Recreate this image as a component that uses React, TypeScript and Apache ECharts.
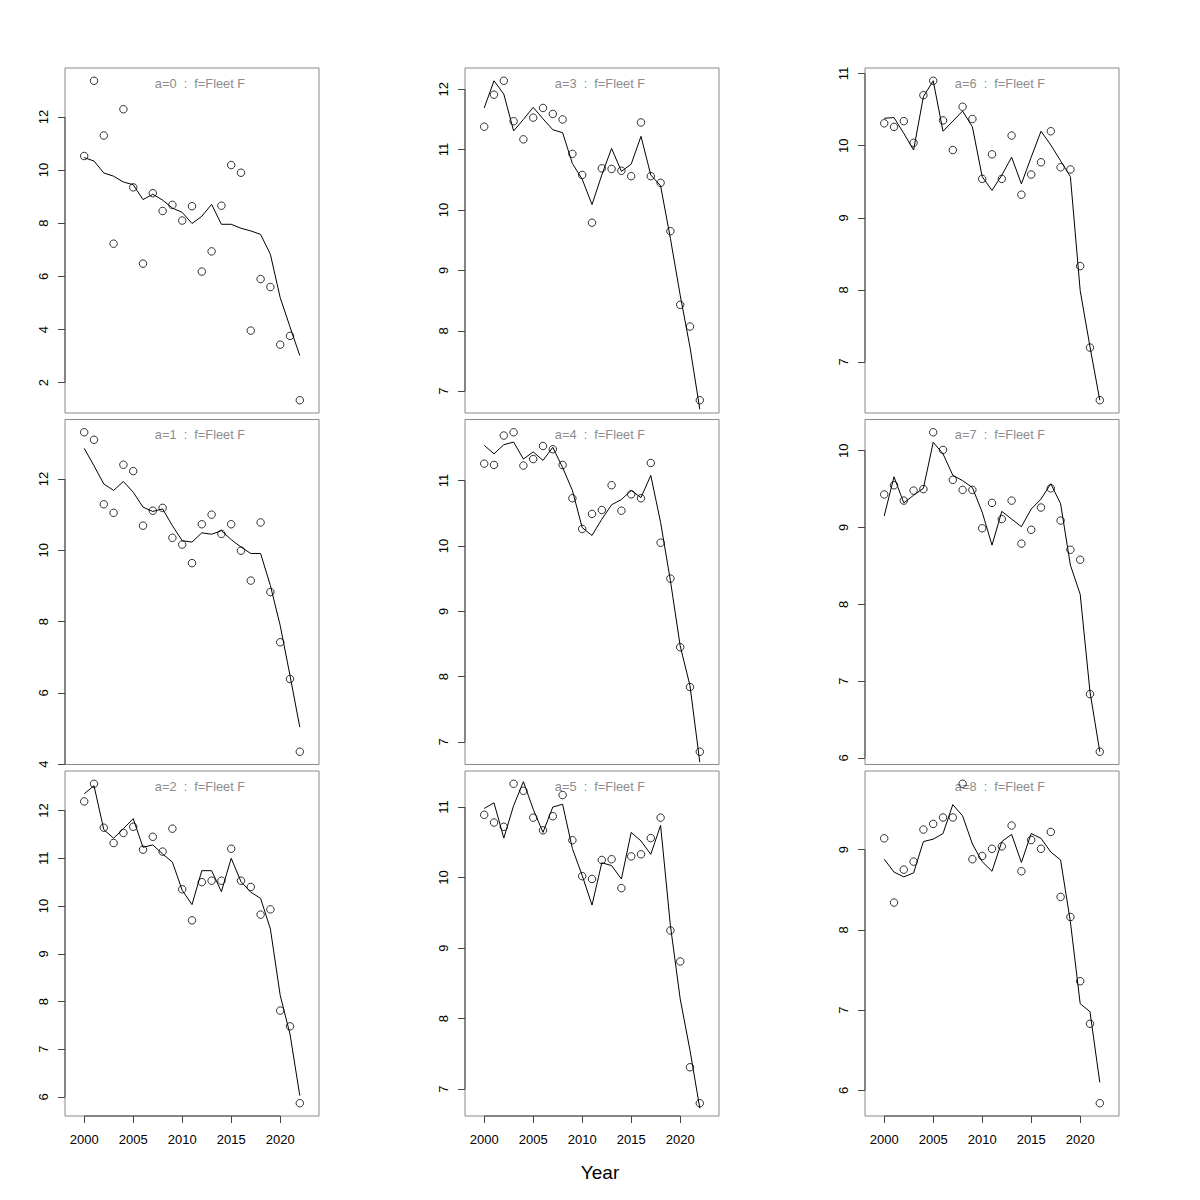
import React, { useEffect, useRef } from "react";
import * as echarts from "echarts";

// ---------- data ----------
const years = [2000, 2001, 2002, 2003, 2004, 2005, 2006, 2007, 2008, 2009, 2010, 2011, 2012, 2013, 2014, 2015, 2016, 2017, 2018, 2019, 2020, 2021, 2022];

const obs0 = [10.53, 13.36, 11.30, 7.23, 12.29, 9.35, 6.48, 9.13, 8.46, 8.69, 8.10, 8.64, 6.18, 6.94, 8.66, 10.19, 9.90, 3.96, 5.90, 5.60, 3.43, 3.76, 1.34];
const fit0 = [10.47, 10.34, 9.89, 9.77, 9.55, 9.45, 8.89, 9.09, 8.87, 8.57, 8.41, 7.99, 8.26, 8.71, 7.96, 7.96, 7.81, 7.71, 7.58, 6.83, 5.20, 4.10, 3.02];

const obs1 = [13.31, 13.10, 11.29, 11.05, 12.40, 12.22, 10.69, 11.11, 11.19, 10.35, 10.16, 9.64, 10.73, 11.00, 10.46, 10.73, 9.99, 9.15, 10.78, 8.83, 7.42, 6.39, 4.35];
const fit1 = [12.86, 12.37, 11.86, 11.68, 11.93, 11.63, 11.21, 11.09, 11.16, 10.69, 10.27, 10.23, 10.49, 10.45, 10.55, 10.30, 10.09, 9.91, 9.91, 9.01, 7.89, 6.49, 5.04];

const obs2 = [12.19, 12.56, 11.64, 11.32, 11.53, 11.66, 11.18, 11.45, 11.14, 11.62, 10.35, 9.70, 10.50, 10.53, 10.53, 11.20, 10.53, 10.40, 9.82, 9.93, 7.81, 7.48, 5.87];
const fit2 = [12.35, 12.52, 11.60, 11.42, 11.62, 11.83, 11.23, 11.28, 11.09, 10.92, 10.33, 10.03, 10.74, 10.74, 10.30, 11.00, 10.51, 10.29, 10.16, 9.52, 8.13, 7.32, 6.03];

const obs3 = [11.38, 11.91, 12.14, 11.47, 11.17, 11.53, 11.69, 11.59, 11.50, 10.93, 10.58, 9.79, 10.69, 10.68, 10.65, 10.56, 11.45, 10.56, 10.45, 9.65, 8.43, 8.07, 6.85];
const fit3 = [11.69, 12.14, 11.92, 11.31, 11.50, 11.70, 11.51, 11.33, 11.28, 10.77, 10.51, 10.09, 10.58, 11.02, 10.64, 10.76, 11.22, 10.58, 10.40, 9.53, 8.59, 7.73, 6.70];

const obs4 = [11.26, 11.24, 11.69, 11.74, 11.23, 11.33, 11.53, 11.48, 11.24, 10.73, 10.26, 10.49, 10.55, 10.93, 10.54, 10.79, 10.73, 11.27, 10.05, 9.50, 8.45, 7.84, 6.85];
const fit4 = [11.54, 11.41, 11.55, 11.59, 11.33, 11.44, 11.31, 11.51, 11.20, 10.85, 10.28, 10.16, 10.41, 10.63, 10.71, 10.85, 10.74, 11.08, 10.36, 9.47, 8.47, 7.86, 6.69];

const obs5 = [10.89, 10.78, 10.72, 11.33, 11.23, 10.85, 10.67, 10.87, 11.17, 10.53, 10.02, 9.98, 10.25, 10.26, 9.85, 10.30, 10.33, 10.56, 10.85, 9.25, 8.81, 7.31, 6.80];
const fit5 = [10.98, 11.06, 10.56, 11.02, 11.36, 10.97, 10.64, 11.00, 11.04, 10.41, 10.03, 9.61, 10.21, 10.17, 9.98, 10.64, 10.52, 10.33, 10.74, 9.32, 8.28, 7.55, 6.73];

const obs6 = [10.31, 10.26, 10.34, 10.04, 10.70, 10.90, 10.35, 9.94, 10.54, 10.37, 9.54, 9.88, 9.54, 10.14, 9.32, 9.60, 9.77, 10.20, 9.70, 9.67, 8.33, 7.20, 6.47];
const fit6 = [10.38, 10.39, 10.17, 9.94, 10.68, 10.90, 10.20, 10.34, 10.48, 10.26, 9.57, 9.38, 9.59, 9.84, 9.47, 9.84, 10.20, 10.01, 9.79, 9.57, 7.99, 7.21, 6.47];

const obs7 = [9.43, 9.55, 9.35, 9.48, 9.50, 10.24, 10.01, 9.62, 9.49, 9.49, 8.99, 9.32, 9.11, 9.35, 8.79, 8.97, 9.26, 9.51, 9.09, 8.71, 8.58, 6.83, 6.08];
const fit7 = [9.15, 9.66, 9.32, 9.42, 9.51, 10.11, 9.96, 9.68, 9.61, 9.52, 9.20, 8.77, 9.21, 9.11, 9.01, 9.24, 9.37, 9.57, 9.31, 8.51, 8.13, 6.86, 6.08];

const obs8 = [9.14, 8.34, 8.75, 8.85, 9.25, 9.32, 9.40, 9.40, 9.82, 8.88, 8.92, 9.01, 9.04, 9.30, 8.73, 9.12, 9.01, 9.22, 8.41, 8.16, 7.36, 6.83, 5.84];
const fit8 = [8.88, 8.72, 8.66, 8.71, 9.10, 9.13, 9.20, 9.56, 9.42, 9.07, 8.85, 8.73, 9.10, 9.19, 8.84, 9.20, 9.14, 8.97, 8.87, 8.10, 7.08, 6.98, 6.10];

const yTicks0 = [2, 4, 6, 8, 10, 12];
const yTicks1 = [4, 6, 8, 10, 12];
const yTicks2 = [6, 7, 8, 9, 10, 11, 12];
const yTicks3 = [7, 8, 9, 10, 11, 12];
const yTicks4 = [7, 8, 9, 10, 11];
const yTicks5 = [7, 8, 9, 10, 11];
const yTicks6 = [7, 8, 9, 10, 11];
const yTicks7 = [6, 7, 8, 9, 10];
const yTicks8 = [6, 7, 8, 9];

const xTicks = [2000, 2005, 2010, 2015, 2020];
const xCore = [1999, 2023];

const panelLabels = [
  "a=0  :  f=Fleet F",
  "a=1  :  f=Fleet F",
  "a=2  :  f=Fleet F",
  "a=3  :  f=Fleet F",
  "a=4  :  f=Fleet F",
  "a=5  :  f=Fleet F",
  "a=6  :  f=Fleet F",
  "a=7  :  f=Fleet F",
  "a=8  :  f=Fleet F",
];
const xAxisTitle = "Year";

const observed = [obs0, obs1, obs2, obs3, obs4, obs5, obs6, obs7, obs8];
const fitted = [fit0, fit1, fit2, fit3, fit4, fit5, fit6, fit7, fit8];
const yTicks = [yTicks0, yTicks1, yTicks2, yTicks3, yTicks4, yTicks5, yTicks6, yTicks7, yTicks8];

// ---------- layout ----------
const FONT = "'Liberation Sans', Arial, Helvetica, sans-serif";
const colLeft = [65, 465, 865];
const rowTop = [68, 419.5, 771];
const PW = 254;
const PH = 345;
const BOX = "#8a8a8a";
const AXIS = "#444";

function extend(lo: number, hi: number): [number, number] {
  const pad = 0.04 * (hi - lo);
  return [lo - pad, hi + pad];
}

function buildOption() {
  const grid: any[] = [];
  const xAxis: any[] = [];
  const yAxis: any[] = [];
  const series: any[] = [];
  const graphic: any[] = [];
  const [xmin, xmax] = extend(xCore[0], xCore[1]);

  for (let a = 0; a < 9; a++) {
    const col = Math.floor(a / 3);
    const row = a % 3;
    const bottom = row === 2;
    const obs = observed[a];
    const fit = fitted[a];
    const [ymin, ymax] = extend(Math.min(...obs), Math.max(...obs));
    const ticks = yTicks[a];

    grid.push({
      left: colLeft[col],
      top: rowTop[row],
      width: PW,
      height: PH,
      show: true,
      borderColor: BOX,
      borderWidth: 1,
      backgroundColor: "transparent",
      containLabel: false,
    });

    xAxis.push({
      gridIndex: a,
      type: "value",
      min: xmin,
      max: xmax,
      axisLine: { show: false },
      splitLine: { show: false },
      axisTick: {
        show: bottom,
        customValues: xTicks,
        length: 7,
        lineStyle: { color: AXIS, width: 1 },
      },
      axisLabel: {
        show: bottom,
        customValues: xTicks,
        formatter: (v: number) => String(v),
        margin: 17,
        fontSize: 13,
        color: "#000",
        fontFamily: FONT,
      },
    });

    yAxis.push({
      gridIndex: a,
      type: "value",
      min: ymin,
      max: ymax,
      axisLine: { show: false },
      splitLine: { show: false },
      axisTick: {
        show: true,
        customValues: ticks,
        length: 7,
        lineStyle: { color: AXIS, width: 1 },
      },
      axisLabel: {
        show: true,
        customValues: ticks,
        formatter: (v: number) => String(v),
        rotate: 90,
        margin: 15,
        fontSize: 13,
        color: "#000",
        fontFamily: FONT,
      },
    });

    series.push({
      type: "scatter",
      xAxisIndex: a,
      yAxisIndex: a,
      data: years.map((y, i) => [y, obs[i]]),
      symbol: "circle",
      symbolSize: 7.5,
      itemStyle: { color: "transparent", borderColor: "#000", borderWidth: 1 },
      silent: true,
      z: 3,
    });

    series.push({
      type: "line",
      xAxisIndex: a,
      yAxisIndex: a,
      data: years.map((y, i) => [y, fit[i]]),
      symbol: "none",
      lineStyle: { color: "#000", width: 1 },
      silent: true,
      z: 2,
    });

    // R-style axis line from first to last tick
    series.push({
      type: "line",
      xAxisIndex: a,
      yAxisIndex: a,
      data: [
        [xmin, ticks[0]],
        [xmin, ticks[ticks.length - 1]],
      ],
      symbol: "none",
      clip: false,
      lineStyle: { color: AXIS, width: 1 },
      silent: true,
      z: 4,
    });
    if (bottom) {
      series.push({
        type: "line",
        xAxisIndex: a,
        yAxisIndex: a,
        data: [
          [xTicks[0], ymin],
          [xTicks[xTicks.length - 1], ymin],
        ],
        symbol: "none",
        clip: false,
        lineStyle: { color: AXIS, width: 1 },
        silent: true,
        z: 4,
      });
    }

    graphic.push({
      type: "text",
      x: colLeft[col] + 135,
      y: rowTop[row] + 15,
      style: {
        text: panelLabels[a],
        textAlign: "center",
        textVerticalAlign: "middle",
        fill: "#8c8c8c",
        font: `12.8px ${FONT}`,
      },
      silent: true,
    });
  }

  graphic.push({
    type: "text",
    x: 600,
    y: 1172,
    style: {
      text: xAxisTitle,
      textAlign: "center",
      textVerticalAlign: "middle",
      fill: "#000",
      font: `19px ${FONT}`,
    },
    silent: true,
  });

  return {
    animation: false,
    backgroundColor: "#ffffff",
    grid,
    xAxis,
    yAxis,
    series,
    graphic,
  };
}

export default function App() {
  const ref = useRef<HTMLDivElement>(null);
  useEffect(() => {
    if (!ref.current) return;
    const chart = echarts.init(ref.current, null, { renderer: "svg" });
    chart.setOption(buildOption() as any);
    return () => chart.dispose();
  }, []);
  return (
    <div
      ref={ref}
      style={{ position: "absolute", left: 0, top: 0, width: 1200, height: 1200, background: "#fff" }}
    />
  );
}
